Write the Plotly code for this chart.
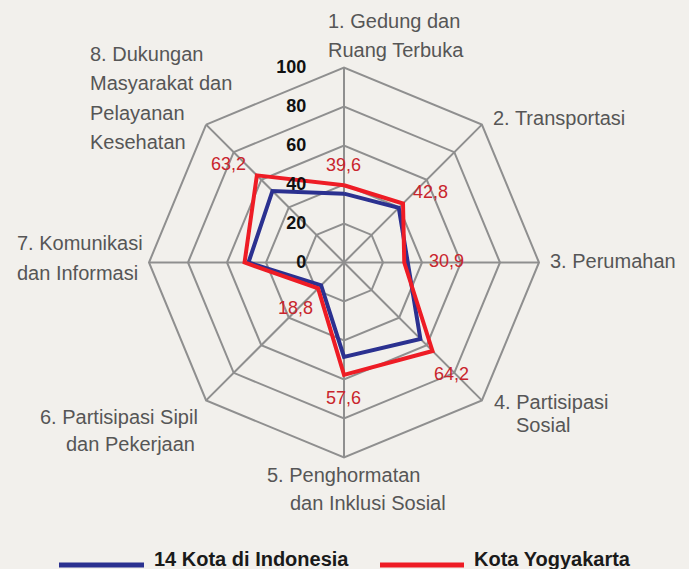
import plotly.graph_objects as go

# ---------------- data ----------------
categories = [
    "1. Gedung dan Ruang Terbuka",
    "2. Transportasi",
    "3. Perumahan",
    "4. Partisipasi Sosial",
    "5. Penghormatan dan Inklusi Sosial",
    "6. Partisipasi Sipil dan Pekerjaan",
    "7. Komunikasi dan Informasi",
    "8. Dukungan Masyarakat dan Pelayanan Kesehatan",
]
category_lines = [
    ["1. Gedung dan", "Ruang Terbuka"],
    ["2. Transportasi"],
    ["3. Perumahan"],
    ["4. Partisipasi", "Sosial"],
    ["5. Penghormatan", "dan Inklusi Sosial"],
    ["6. Partisipasi Sipil", "dan Pekerjaan"],
    ["7. Komunikasi", "dan Informasi"],
    ["8. Dukungan", "Masyarakat dan", "Pelayanan", "Kesehatan"],
]
series_names = ["14 Kota di Indonesia", "Kota Yogyakarta"]
values_14_kota = [35.3, 39.7, 32.7, 55.4, 48.4, 16.6, 49.0, 51.9]
values_yogya = [39.6, 42.8, 30.9, 64.2, 57.6, 18.8, 51.0, 63.2]
labelled_yogya = [True, True, True, True, True, True, False, True]
radial_ticks = [0, 20, 40, 60, 80, 100]

# ---------------- styling / layout positions ----------------
W, H = 689, 569
BG = "#f2f0ec"
GRID = "#8f8f8f"
BLUE = "#2b3190"
RED = "#ee1c25"
VAL_RED = "#c9252c"
TXT = "#565656"

cx, cy, R = 344, 262.5, 195

def px(x):
    return x / W

def py(y):
    return 1 - y / H

cat_pos = [
    [(326, 21), (326, 50)],
    [(491, 118)],
    [(548, 261)],
    [(492, 402), (514, 425)],
    [(265, 475), (288, 503)],
    [(38, 417), (64, 444)],
    [(15, 243), (15, 273)],
    [(88, 54), (88, 83), (88, 113), (88, 142)],
]
val_pos = [(343, 165), (430, 192), (446, 261), (452, 374), (343, 398), (295, 308), None, (228, 164)]

fig = go.Figure()

theta_closed = categories + [categories[0]]
fig.add_trace(go.Scatterpolar(
    r=values_14_kota + [values_14_kota[0]], theta=theta_closed,
    mode="lines", line=dict(color=BLUE, width=4), name=series_names[0],
    showlegend=False,
))
fig.add_trace(go.Scatterpolar(
    r=values_yogya + [values_yogya[0]], theta=theta_closed,
    mode="lines", line=dict(color=RED, width=4), name=series_names[1],
    showlegend=False,
))

annotations = []
for lines, poss in zip(category_lines, cat_pos):
    for text, (x, y) in zip(lines, poss):
        annotations.append(dict(
            x=px(x), y=py(y), xref="paper", yref="paper", text=text,
            showarrow=False, xanchor="left", yanchor="middle",
            font=dict(family="Liberation Sans, Arial, sans-serif", size=20, color=TXT),
        ))

for v, show, pos in zip(values_yogya, labelled_yogya, val_pos):
    if not show or pos is None:
        continue
    annotations.append(dict(
        x=px(pos[0]), y=py(pos[1]), xref="paper", yref="paper",
        text=f"{v:.1f}".replace(".", ","), showarrow=False,
        xanchor="center", yanchor="middle",
        font=dict(family="Liberation Sans, Arial, sans-serif", size=18, color=VAL_RED),
    ))

legend_items = [(series_names[0], BLUE, 59, 144, 152), (series_names[1], RED, 380, 464, 472)]
shapes = []
for name, col, x0, x1, tx in legend_items:
    shapes.append(dict(type="line", xref="paper", yref="paper",
                       x0=px(x0), x1=px(x1), y0=py(565), y1=py(565),
                       line=dict(color=col, width=5)))
    annotations.append(dict(
        x=px(tx), y=py(559), xref="paper", yref="paper", text=f"<b>{name}</b>",
        showarrow=False, xanchor="left", yanchor="middle",
        font=dict(family="Liberation Sans, Arial, sans-serif", size=20, color="#1a1a1a"),
    ))

fig.update_layout(
    width=W, height=H,
    margin=dict(l=0, r=0, t=0, b=0),
    paper_bgcolor=BG,
    plot_bgcolor=BG,
    showlegend=False,
    polar=dict(
        domain=dict(x=[px(cx - R), px(cx + R)], y=[py(cy + R), py(cy - R)]),
        bgcolor=BG,
        gridshape="linear",
        radialaxis=dict(
            range=[0, 100], tickvals=radial_ticks, ticktext=[str(t) for t in radial_ticks],
            angle=90, tickangle=90, side="counterclockwise",
            showline=False, gridcolor=GRID, gridwidth=2,
            ticks="outside", ticklen=31, tickcolor="rgba(0,0,0,0)",
            tickfont=dict(family="Liberation Sans, Arial, sans-serif", size=18,
                          color="#111111", weight=700),
        ),
        angularaxis=dict(
            direction="clockwise", rotation=90,
            showticklabels=False, ticks="",
            showline=True, linecolor=GRID, linewidth=2,
            gridcolor=GRID, gridwidth=2,
        ),
    ),
    annotations=annotations,
    shapes=shapes,
)

fig.write_html("out.html")
